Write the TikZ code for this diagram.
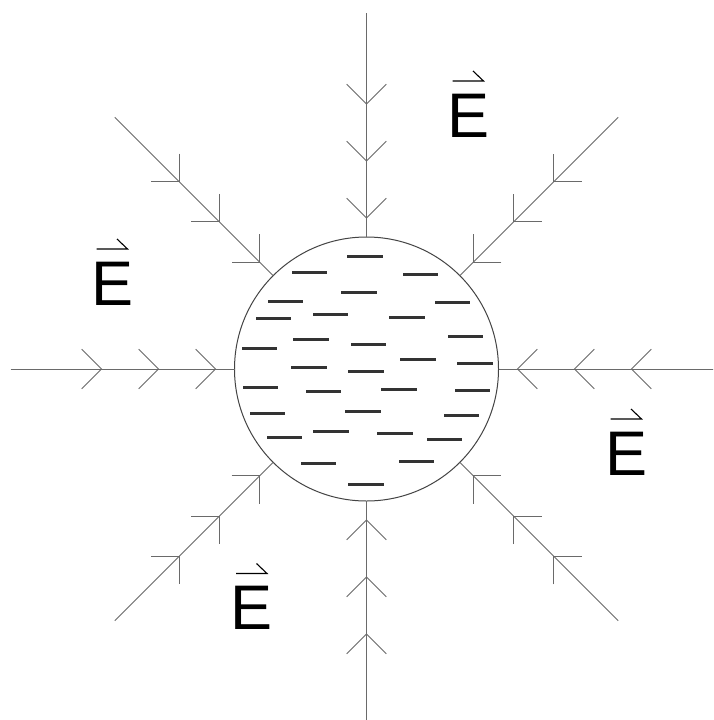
\documentclass[tikz,border=0pt]{standalone}
\usepackage{fontspec}
\setmainfont{Liberation Sans}
\usetikzlibrary{calc}
\definecolor{linegray}{HTML}{6A6A6A}
\definecolor{dashgray}{HTML}{333333}
\definecolor{rimgray}{HTML}{444444}
\tikzset{
  fieldline/.style={draw=linegray, line width=1pt},
  chevron/.style={draw=linegray, line width=1pt},
  charge/.style={draw=dashgray, line width=3pt},
  sphere/.style={circle, draw=rimgray, line width=1pt, minimum size=264pt, inner sep=0pt, outer sep=0pt},
  elabel/.style={font=\fontsize{63}{63}\selectfont, text height=45pt, text depth=0pt, inner sep=0pt},
  harpoon/.style={draw=black, line width=1.1pt},
}
\begin{document}
\begin{tikzpicture}[x=1pt,y=-1pt]
\useasboundingbox (0,0) rectangle (713,720);
\clip (0,0) rectangle (713,720);
\fill[white] (0,0) rectangle (713,720);
\node[sphere] (S) at (366.5,369) {};
% field lines with inward chevrons
\foreach \a in {0,45,...,315} {
  \coordinate (end\a) at ($(S.center)+(\a:356)$);
  \draw[fieldline] (end\a) -- (S);
  \foreach \r in {151,208,265} {
    \coordinate (tip) at ($(S.center)+(\a:\r)$);
    \draw[chevron] ($(tip)+(\a+45:28)$) -- (tip) -- ($(tip)+(\a-45:28)$);
  }
}
% negative charges
\foreach \xa/\xb/\y in {
  347/383/256, 292/327/272, 403/438/274, 341/377/292, 268/303/301,
  435/470/302, 313/348/314, 256/291/318, 389/425/317, 293/329/339,
  448/483/336, 242/277/348, 351/386/344, 400/436/359, 457/493/363,
  291/327/367, 348/384/371, 243/278/387, 306/341/391, 381/417/389,
  455/490/390, 250/285/413, 345/381/411, 444/479/415, 267/302/437,
  313/349/431, 377/413/433, 427/462/439, 301/336/463, 399/434/461,
  348/384/484} {
  \draw[charge] (\xa,\y) -- (\xb,\y);
}
% E labels with harpoons
\foreach \n/\cx/\cy in {T/468.5/114.5, L/112.5/282.5, R/626.5/452.5, B/252/607} {
  \node[elabel] (E\n) at (\cx,\cy) {E};
  \coordinate (hl\n) at ($(E\n.center)+(-16,-33.5)$);
  \coordinate (hr\n) at ($(E\n.center)+(15,-33.5)$);
  \coordinate (ht\n) at ($(E\n.center)+(4.5,-43.5)$);
  \draw[harpoon] (hl\n) -- (hr\n) -- (ht\n);
}
\end{tikzpicture}
\end{document}
